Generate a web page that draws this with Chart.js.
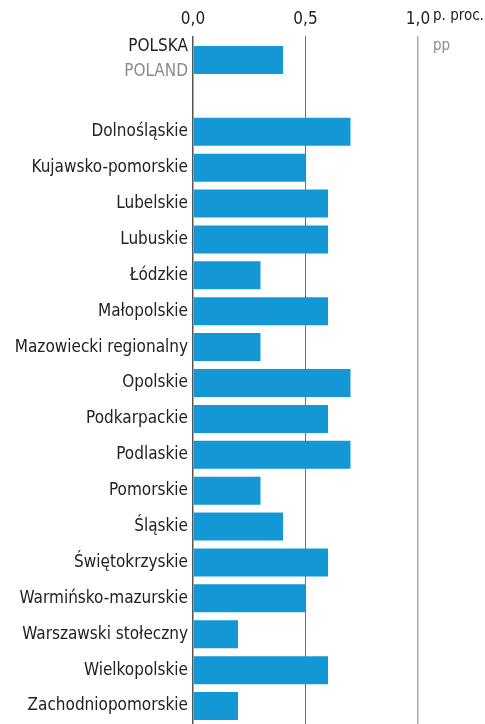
<!DOCTYPE html>
<html>
<head>
<meta charset="utf-8">
<script src="https://cdn.jsdelivr.net/npm/chart.js@4"></script>
<style>
  html, body { margin: 0; padding: 0; background: #fff; }
  #wrap { width: 485px; height: 724px; position: relative; }
</style>
</head>
<body>
<div id="wrap"><canvas id="chart"></canvas></div>
<script>
// categories (empty one keeps the gap under POLSKA)
const categories = ['POLSKA', '', 'Dolnośląskie', 'Kujawsko-pomorskie', 'Lubelskie', 'Lubuskie',
    'Łódzkie', 'Małopolskie', 'Mazowiecki regionalny', 'Opolskie', 'Podkarpackie', 'Podlaskie',
    'Pomorskie', 'Śląskie', 'Świętokrzyskie', 'Warmińsko-mazurskie', 'Warszawski stołeczny',
    'Wielkopolskie', 'Zachodniopomorskie'];
const values = [0.4, null, 0.7, 0.5, 0.6, 0.6, 0.3, 0.6, 0.3, 0.7, 0.6, 0.7, 0.3, 0.4, 0.6, 0.5, 0.2, 0.6, 0.2];
const tickValues = [0, 0.5, 1.0];
const unitLabel = 'p. proc.';
const unitLabelEn = 'pp';
const firstLabelEn = 'POLAND';

const FONT = '"Liberation Sans Narrow", "DejaVu Sans Condensed", sans-serif';
const gridColors = ['#555555', '#707070', '#aaaaaa'];
const gridWidths = [1.5, 1, 1.5];

// draws the two-line POLSKA / POLAND label and the unit text
const extraText = {
    id: 'extraText',
    afterDraw(chart) {
        const ctx = chart.ctx;
        const y = chart.scales.y;
        const x = chart.scales.x;
        const yc = y.getPixelForValue(0);
        ctx.save();
        ctx.font = '17px ' + FONT;
        ctx.textAlign = 'right';
        ctx.textBaseline = 'middle';
        ctx.fillStyle = '#222';
        ctx.fillText(categories[0], y.right - 5, yc - 13);
        ctx.fillStyle = '#8c8c8c';
        ctx.fillText(firstLabelEn, y.right - 5, yc + 12);

        const ux = x.getPixelForValue(1.0) + 15;
        ctx.font = '15px ' + FONT;
        ctx.textAlign = 'left';
        ctx.fillStyle = '#222';
        ctx.fillText(unitLabel, ux, 16);
        ctx.fillStyle = '#8c8c8c';
        ctx.fillText(unitLabelEn, ux, 46);
        ctx.restore();
    }
};

new Chart(document.getElementById('chart'), {
    type: 'bar',
    data: {
        labels: categories,
        datasets: [{
            data: values,
            backgroundColor: '#1497d5',
            borderWidth: 0,
            barPercentage: 0.78,
            categoryPercentage: 1.0
        }]
    },
    options: {
        indexAxis: 'y',
        responsive: true,
        maintainAspectRatio: false,
        animation: false,
        layout: { padding: { left: 0, right: 67, top: 0, bottom: 0 } },
        plugins: {
            legend: { display: false },
            tooltip: { enabled: false }
        },
        scales: {
            x: {
                position: 'top',
                min: 0,
                max: 1.0,
                afterBuildTicks: function(scale) {
                    scale.ticks = tickValues.map(v => ({ value: v }));
                },
                afterFit: function(scale) { scale.height = 42; },
                border: { display: false },
                grid: {
                    drawTicks: true,
                    tickLength: 6,
                    color: ctx => gridColors[ctx.index] || '#aaa',
                    tickColor: ctx => gridColors[ctx.index] || '#aaa',
                    lineWidth: ctx => gridWidths[ctx.index] || 1
                },
                ticks: {
                    padding: 6,
                    color: '#222',
                    font: { family: FONT, size: 17 },
                    callback: function(value) {
                        return value.toFixed(1).replace('.', ',');
                    }
                }
            },
            y: {
                afterFit: function(scale) {
                    scale.width = 193;
                    scale.paddingTop = 0;
                    scale.paddingBottom = 0;
                },
                border: { display: false },
                grid: { display: false, drawTicks: false },
                ticks: {
                    padding: 5,
                    color: '#222',
                    autoSkip: false,
                    font: { family: FONT, size: 17 },
                    callback: function(value, index) {
                        return index === 0 ? '' : categories[index];
                    }
                }
            }
        }
    },
    plugins: [extraText]
});
</script>
</body>
</html>
